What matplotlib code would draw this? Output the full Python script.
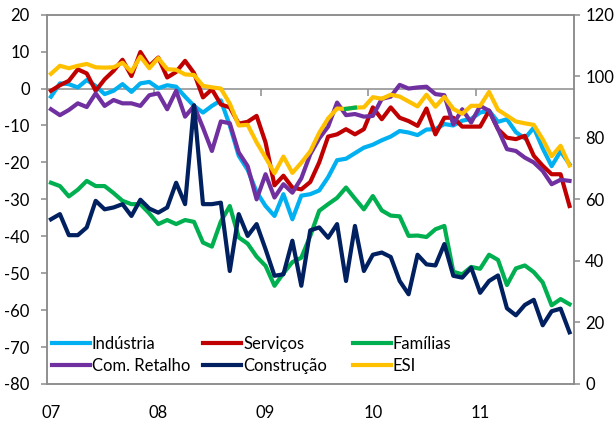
import matplotlib
matplotlib.use('Agg')
import matplotlib.pyplot as plt
import numpy as np

# monthly series, Jan 2007 .. Nov 2011
industria = [-2.2, 1.4, 1.2, 0.3, 2.3, 0.7, -1.5, -0.6, 1.2, -0.9, 1.4, 1.8, 0.1, 0.9, 0.5,
             -2.2, -4.7, -6.5, -4.7, -3.2, -10.0, -18.2, -22.0, -28.0, -31.8, -34.5, -28.6,
             -35.4, -29.0, -28.6, -27.6, -24.0, -19.4, -19.0, -17.5, -16.0, -15.2, -14.0,
             -13.0, -11.5, -11.9, -12.6, -11.1, -11.0, -9.6, -10.0, -8.7, -8.2, -6.5, -6.0,
             -9.0, -8.3, -11.8, -13.5, -10.6, -16.2, -21.0, -17.0, -20.5]
servicos = [-0.6, 0.9, 2.1, 5.2, 4.1, -0.6, 2.5, 4.8, 7.8, 3.4, 9.9, 6.1, 8.4, 3.0, 4.5,
            7.5, 4.2, -2.4, -0.2, -4.3, -5.1, -9.5, -9.0, -7.4, -14.6, -26.2, -23.6, -26.8,
            -27.3, -25.3, -20.0, -13.0, -12.4, -11.0, -12.4, -11.0, -5.1, -8.3, -5.1, -7.9,
            -8.8, -10.1, -5.4, -12.4, -7.9, -7.9, -10.3, -10.3, -10.3, -6.0, -11.0, -13.3,
            -13.7, -12.8, -18.2, -20.9, -23.2, -23.2, -31.8]
familias = [-25.5, -26.4, -29.2, -27.4, -25.0, -26.4, -26.4, -28.3, -30.4, -31.3, -31.3,
            -33.8, -36.7, -35.6, -36.7, -35.6, -36.1, -41.7, -42.8, -36.0, -31.8, -40.3,
            -42.0, -45.5, -48.0, -53.4, -50.0, -47.0, -45.8, -39.9, -33.1, -31.3, -29.6,
            -26.8, -29.8, -32.7, -29.1, -33.0, -34.4, -34.6, -39.9, -39.8, -40.2, -38.1,
            -37.2, -49.6, -50.3, -48.3, -48.8, -45.0, -46.4, -53.2, -48.7, -47.9, -49.7,
            -52.5, -58.7, -57.0, -58.4]
retalho = [-5.6, -7.2, -5.8, -4.0, -5.0, -1.3, -4.7, -3.1, -4.0, -4.0, -4.7, -1.8, -1.3,
           -5.6, -0.6, -7.6, -4.7, -10.6, -16.9, -8.9, -9.4, -17.3, -21.0, -30.0, -23.2,
           -29.5, -25.9, -28.2, -24.3, -17.8, -13.5, -10.3, -3.8, -7.2, -6.9, -7.6, -7.4,
           -2.8, -2.2, 1.0, 0.0, 0.3, 0.5, -1.5, -1.8, -9.7, -5.6, -9.2, -4.7, -6.0, -11.0,
           -16.4, -16.9, -18.7, -20.0, -22.3, -25.9, -24.7, -25.0]
construcao = [-35.4, -34.0, -39.7, -39.7, -37.6, -30.4, -32.7, -32.2, -31.3, -34.5, -30.1,
              -32.5, -33.6, -32.2, -25.5, -31.3, -4.5, -31.3, -31.3, -30.9, -49.4, -34.0,
              -39.9, -36.7, -43.5, -50.7, -50.3, -41.2, -53.4, -38.4, -37.6, -40.4, -36.7,
              -52.1, -37.2, -49.4, -45.0, -44.4, -45.6, -52.1, -55.7, -45.0, -47.6, -47.9,
              -42.1, -50.7, -51.2, -48.5, -55.3, -52.1, -50.6, -59.5, -61.4, -58.6, -57.2,
              -64.1, -60.3, -59.6, -66.0]
esi = [100.8, 103.4, 102.6, 103.4, 104.0, 102.9, 102.8, 102.9, 104.4, 101.5, 106.4, 102.6,
       105.9, 102.3, 102.1, 100.6, 100.4, 96.9, 96.4, 96.0, 91.1, 84.0, 84.2, 78.5, 73.6,
       68.5, 73.9, 68.6, 71.9, 75.6, 81.6, 86.3, 89.5, 89.4, 89.8, 89.9, 93.2, 92.7, 94.0,
       93.4, 91.8, 90.2, 94.0, 90.1, 93.3, 89.4, 87.8, 90.4, 90.4, 94.9, 89.1, 87.2, 85.3,
       84.7, 84.2, 79.5, 74.0, 77.4, 71.0]
year_labels = ['07', '08', '09', '10', '11']

plt.rcParams['font.family'] = ['Lato', 'DejaVu Sans']
plt.rcParams['font.size'] = 12
plt.rcParams['axes.unicode_minus'] = False

grey = '#8c8c8c'
x = np.arange(len(esi))

fig = plt.figure(figsize=(6.16, 4.21), dpi=100)
ax = fig.add_axes([46.5/616, 1-384/421, (574-46.5)/616, (384-14.7)/421])
ax2 = ax.twinx()

lw = 3.0
l_ind, = ax.plot(x, industria, color='#00b0f0', lw=lw, label='Indústria')
l_ser, = ax.plot(x, servicos, color='#c00000', lw=lw, label='Serviços')
l_fam, = ax.plot(x, familias, color='#00b050', lw=lw, label='Famílias')
l_ret, = ax.plot(x, retalho, color='#7030a0', lw=lw, label='Com. Retalho')
l_con, = ax.plot(x, construcao, color='#002060', lw=lw, label='Construção')
l_esi, = ax2.plot(x, esi, color='#ffc000', lw=lw, label='ESI')
# small green piece on the ESI line, as in the original
ax2.plot(x[33:35], esi[33:35], color='#00b050', lw=lw)

ax.set_xlim(-0.5, len(esi) - 0.5)
ax.set_ylim(-80, 20)
ax.set_yticks(np.arange(-80, 21, 10))
ax2.set_ylim(0, 120)
ax2.set_yticks(np.arange(0, 121, 20))

for a in (ax, ax2):
    for s in a.spines.values():
        s.set_color(grey)
        s.set_linewidth(1.1)
ax.tick_params(axis='y', direction='out', length=4, width=1.1, color=grey, pad=8)
ax2.tick_params(axis='y', direction='out', length=4, width=1.1, color=grey, pad=4)

# year labels low, at the first month of each year
ax.set_xticks(x[::12])
ax.set_xticklabels(year_labels)
ax.tick_params(axis='x', length=0, pad=15)

# category axis crossing at zero
sec = ax.secondary_xaxis(0.8)
sec.set_xticks([11.5, 23.5, 35.5, 47.5])
sec.tick_params(direction='in', length=5, width=1.1, color=grey, labeltop=False, labelbottom=False)
for s in sec.spines.values():
    s.set_color(grey)
    s.set_linewidth(1.1)

cols = [([l_ind, l_ret], 51.7), ([l_ser, l_con], 203), ([l_fam, l_esi], 352.7)]
legs = []
for hs, px in cols:
    leg = ax2.legend(handles=hs, loc='upper left', bbox_to_anchor=(px/616, 1-336/421),
                     bbox_transform=fig.transFigure, frameon=False, borderpad=0,
                     handlelength=2.3, handletextpad=0.1, labelspacing=0.35, borderaxespad=0)
    legs.append(leg)
for leg in legs[:-1]:
    ax2.add_artist(leg)

plt.savefig('out.png', dpi=100)
